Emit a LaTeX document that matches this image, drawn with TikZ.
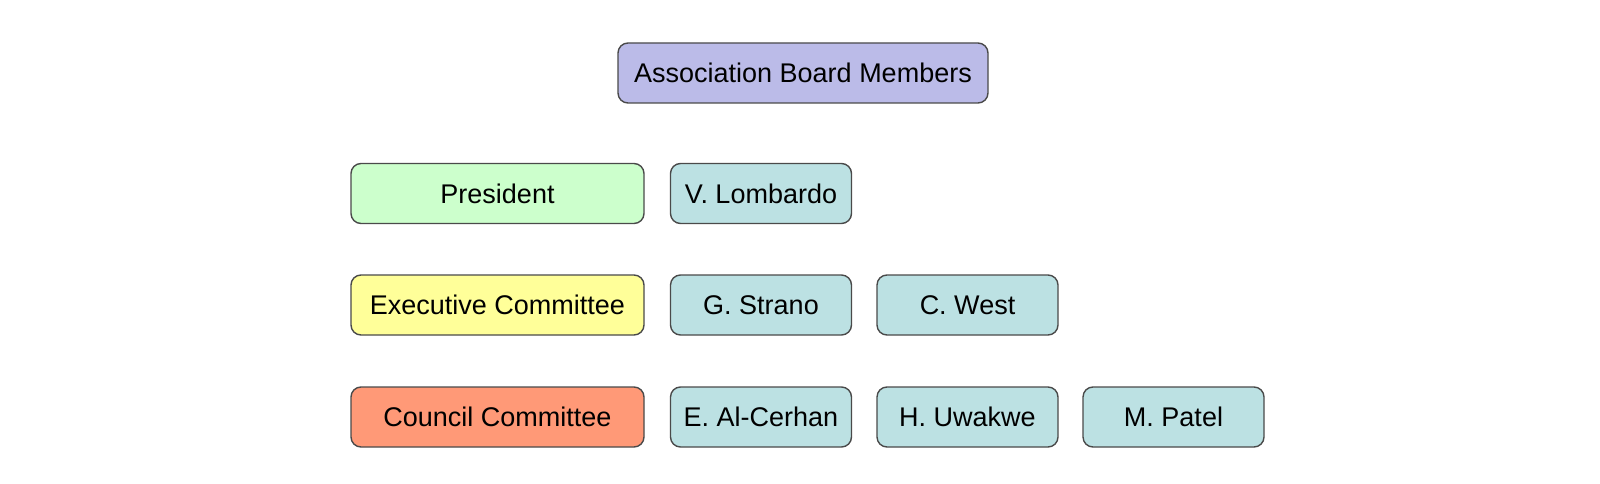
\documentclass[tikz,border=0pt]{standalone}
\usepackage{fontspec}
\setmainfont{Liberation Sans}
\definecolor{bordc}{HTML}{4A4A4A}
\definecolor{lav}{HTML}{BBBBE8}
\definecolor{mint}{HTML}{CCFFCC}
\definecolor{lemon}{HTML}{FFFF99}
\definecolor{salmon}{HTML}{FF9977}
\definecolor{aqua}{HTML}{BCE1E3}
\tikzset{
  orgbox/.style={draw=bordc, line width=1.4pt, rounded corners=10pt, inner sep=0pt,
    minimum height=60pt, font=\fontsize{27}{32}\selectfont, text=black},
  rolebox/.style={orgbox, minimum width=293pt},
  personbox/.style={orgbox, minimum width=181pt, fill=aqua}}
\begin{document}
\begin{tikzpicture}[x=1pt,y=-1pt]
\useasboundingbox (0,0) rectangle (1600,484);
\fill[white] (0,0) rectangle (1600,484);
\node[orgbox, minimum width=370pt, fill=lav] (abm) at (803,73) {Association Board Members};
\node[rolebox, fill=mint] (pres) at (497.5,193.5) {President};
\node[personbox] (lomb) at (761,193.5) {V. Lombardo};
\node[rolebox, fill=lemon] (exec) at (497.5,305) {Executive Committee};
\node[personbox] (strano) at (761,305) {G. Strano};
\node[personbox] (west) at (967.5,305) {C. West};
\node[rolebox, fill=salmon] (coun) at (497.5,417) {Council Committee};
\node[personbox] (alc) at (761,417) {E. Al-Cerhan};
\node[personbox] (uwa) at (967.5,417) {H. Uwakwe};
\node[personbox] (pat) at (1173.5,417) {M. Patel};
\end{tikzpicture}
\end{document}
